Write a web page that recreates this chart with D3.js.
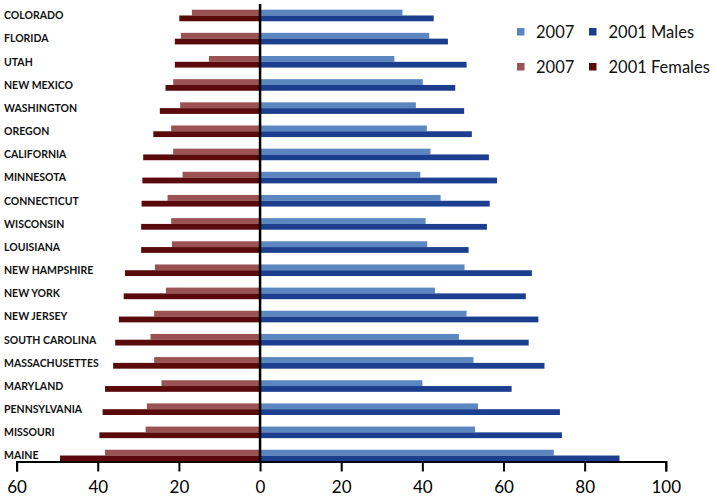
<!DOCTYPE html>
<html>
<head>
<meta charset="utf-8">
<script src="https://cdn.jsdelivr.net/npm/d3@7"></script>
<style>
  html, body { margin: 0; padding: 0; background: #fff; }
  svg { display: block; }
  text { font-family: Lato, "Open Sans", sans-serif; }
</style>
</head>
<body>
<svg id="chart" width="717" height="498"></svg>
<script>
// ---- data ----
const states = ["COLORADO","FLORIDA","UTAH","NEW MEXICO","WASHINGTON","OREGON","CALIFORNIA","MINNESOTA","CONNECTICUT","WISCONSIN","LOUISIANA","NEW HAMPSHIRE","NEW YORK","NEW JERSEY","SOUTH CAROLINA","MASSACHUSETTES","MARYLAND","PENNSYLVANIA","MISSOURI","MAINE"];
const males2007   = [35.1,41.7,33.1,40.1,38.4,41.1,42.0,39.5,44.5,40.8,41.2,50.4,43.1,50.9,49.0,52.6,40.0,53.7,53.0,72.4];
const males2001   = [42.8,46.3,50.9,48.1,50.3,52.2,56.4,58.4,56.6,55.9,51.4,67.0,65.5,68.6,66.2,70.1,62.0,73.9,74.4,88.6];
const females2007 = [16.8,19.5,12.6,21.4,19.7,21.9,21.4,19.1,22.8,21.9,21.7,25.9,23.2,26.1,27.0,26.1,24.3,27.9,28.2,38.2];
const females2001 = [19.9,21.0,21.0,23.3,24.7,26.3,28.8,29.0,29.2,29.3,29.3,33.3,33.6,34.8,35.7,36.2,38.2,38.8,39.6,49.3];
const tickValues = [-60,-40,-20,0,20,40,60,80,100];
const legendRows = [
  [{label:"2007", color:"#5b86c0"}, {label:"2001 Males", color:"#1b3e8e"}],
  [{label:"2007", color:"#9b5252"}, {label:"2001 Females", color:"#5a0a0a"}]
];

// ---- layout ----
const svg = d3.select("#chart");
const x = d3.scaleLinear().domain([-60, 100]).range([16.6, 665.8]);
const y = d3.scaleBand().domain(states).range([3.9, 467.1]).paddingInner(0.5).paddingOuter(0.25);
const bh = y.bandwidth() / 2;
const axisY = 461.5;

const colors = {m07:"#5b86c0", m01:"#1b3e8e", f07:"#9b5252", f01:"#5a0a0a"};

const g = svg.append("g");
states.forEach((s, i) => {
  // females (left)
  g.append("rect").attr("x", x(-females2007[i])).attr("y", y(s))
    .attr("width", x(0) - x(-females2007[i])).attr("height", bh).attr("fill", colors.f07);
  g.append("rect").attr("x", x(-females2001[i])).attr("y", y(s) + bh)
    .attr("width", x(0) - x(-females2001[i])).attr("height", bh).attr("fill", colors.f01);
  // males (right)
  g.append("rect").attr("x", x(0)).attr("y", y(s))
    .attr("width", x(males2007[i]) - x(0)).attr("height", bh).attr("fill", colors.m07);
  g.append("rect").attr("x", x(0)).attr("y", y(s) + bh)
    .attr("width", x(males2001[i]) - x(0)).attr("height", bh).attr("fill", colors.m01);
});

// state labels
svg.append("g").selectAll("text").data(states).join("text")
  .attr("x", 4).attr("y", d => y(d) + y.bandwidth() / 2)
  .attr("dy", "0.36em")
  .attr("font-size", 10.5).attr("font-weight", 700).attr("fill", "#111")
  .text(d => d);

// x axis
const xAxis = d3.axisBottom(x).tickValues(tickValues).tickSize(10).tickPadding(9)
  .tickFormat(d => Math.abs(d));
const ax = svg.append("g").attr("transform", `translate(0,${axisY})`).call(xAxis);
ax.select(".domain").attr("stroke", "#000").attr("stroke-width", 2);
ax.selectAll(".tick line").attr("stroke", "#000").attr("stroke-width", 2);
ax.selectAll(".tick text").attr("font-size", 17).attr("fill", "#000")
  .attr("font-family", "Lato, 'Open Sans', sans-serif");

// vertical zero line
svg.append("line").attr("x1", x(0)).attr("x2", x(0)).attr("y1", 4).attr("y2", axisY)
  .attr("stroke", "#000").attr("stroke-width", 2.5);

// legend
const legend = svg.append("g");
const colX = [[517, 536], [589, 608.5]];
const rowY = [37.5, 72.5];
legendRows.forEach((row, r) => {
  row.forEach((item, c) => {
    legend.append("rect").attr("x", colX[c][0]).attr("y", rowY[r] - 9.5)
      .attr("width", 7.5).attr("height", 7.5).attr("fill", item.color);
    legend.append("text").attr("x", colX[c][1]).attr("y", rowY[r])
      .attr("font-size", 16.5).attr("fill", "#111").text(item.label);
  });
});
</script>
</body>
</html>
